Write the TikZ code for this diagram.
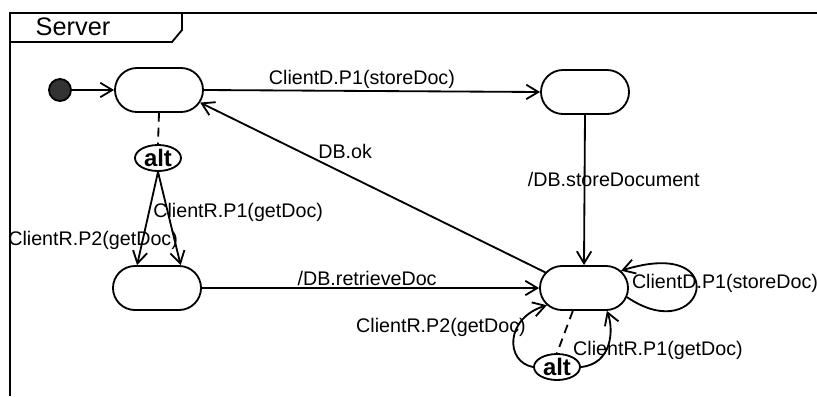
\documentclass[tikz,border=0pt]{standalone}
\usepackage{fontspec}
\setmainfont{Liberation Sans}
\usetikzlibrary{positioning}
\usetikzlibrary{shapes.geometric}
\usetikzlibrary{shapes.misc}
\usetikzlibrary{arrows.meta}

\begin{document}
\begin{tikzpicture}[x=0.025cm,y=-0.025cm,line width=1.3pt,
  every node/.style={font=\fontsize{14}{16}\selectfont},
  state/.style={draw,rounded rectangle,minimum width=2.2cm,minimum height=1.1cm,inner sep=0pt},
  choice/.style={draw,ellipse,minimum width=1.15cm,minimum height=0.65cm,inner sep=0pt,
    font=\fontsize{17}{18}\selectfont\bfseries},
  trans/.style={-{Straight Barb[length=3mm,width=3.6mm]}},
  guard/.style={dash pattern=on 0.22cm off 0.15cm},
  lbl/.style={inner sep=1pt}]
 \useasboundingbox (0,0) rectangle (817,396);

 \draw (10,396) -- (10,13) -- (817,13);
 \draw (10,42) -- (172,42) -- (182,30) -- (182,13);
 \node[inner sep=0pt,font=\fontsize{18}{20}\selectfont] (title) at (73,27) {Server};

 \node[circle,draw,fill=black!80,minimum size=0.55cm,inner sep=0pt] (init) at (60,90) {};
 \node[state] (ready) at (159,90) {};
 \node[state] (store) at (585,92) {};
 \node[state] (fetch) at (157,288) {};
 \node[state] (dbwait) at (584,288) {};
 \node[choice] (alta) at (158,158) {alt};
 \node[choice] (altb) at (557,367) {alt};

 \draw[trans] (init) -- (ready);
 \draw[trans] (ready.east) -- node[lbl,pos=0.47,above] (l1) {ClientD.P1(storeDoc)} (store.west);
 \draw[trans] (store.south) -- node[lbl,pos=0.43,xshift=0.73cm] (l2) {/DB.storeDocument} (dbwait.north);
 \draw[trans] (dbwait.158) -- node[lbl,pos=0.58,yshift=0.57cm] (l3) {DB.ok} (ready.-17);
 \draw[trans] (fetch.east) -- node[lbl,pos=0.49,above] (l4) {/DB.retrieveDoc} (dbwait.west);

 \draw[guard] (ready.south) -- (alta.north);
 \draw[trans] (alta.south) -- node[lbl,pos=0.43,xshift=1.76cm] (l5) {ClientR.P1(getDoc)} (fetch.44);
 \draw[trans] (alta.south) -- node[lbl,pos=0.73,xshift=-1.24cm] (l6) {ClientR.P2(getDoc)} (fetch.131);

 \draw[trans] (dbwait.-12) .. controls (705,350) and (735,235) .. (dbwait.25);
 \node[lbl] (l7) at (725,283) {ClientD.P1(storeDoc)};

 \draw[guard] (dbwait.-116) -- (altb.north);
 \draw[trans] (altb.west) .. controls (505,362) and (505,318) .. (dbwait.-155);
 \draw[trans] (altb.east) .. controls (612,364) and (614,330) .. (dbwait.-45);
 \node[lbl] (l8) at (441,327) {ClientR.P2(getDoc)};
 \node[lbl] (l9) at (658,350) {ClientR.P1(getDoc)};

\end{tikzpicture}
\end{document}
